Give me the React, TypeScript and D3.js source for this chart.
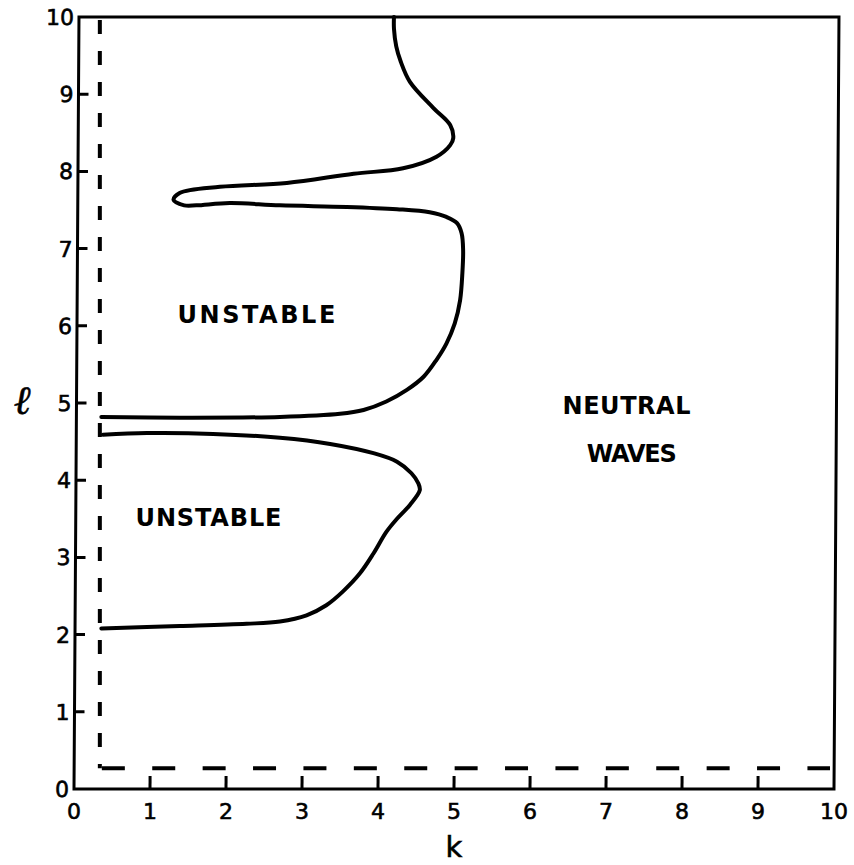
import React from "react";
import * as d3 from "d3";

// Wavenumber ticks on both axes
const kTicks = [0, 1, 2, 3, 4, 5, 6, 7, 8, 9, 10];
const lTicks = [0, 1, 2, 3, 4, 5, 6, 7, 8, 9, 10];

// Marginal-stability curve bounding the lower unstable band, (k, l)
const lowerBoundary: [number, number][] = [
  [0.38, 4.59], [0.96, 4.61], [1.83, 4.6], [2.71, 4.55], [3.37, 4.47],
  [3.94, 4.35], [4.25, 4.24], [4.44, 4.09], [4.53, 3.96], [4.55, 3.87],
  [4.42, 3.68], [4.25, 3.5], [4.11, 3.33], [3.94, 3.05], [3.76, 2.79],
  [3.54, 2.56], [3.32, 2.38], [3.06, 2.25], [2.71, 2.17], [2.27, 2.14],
  [1.39, 2.11], [0.36, 2.08],
];

// Marginal-stability curve bounding the upper unstable band, (k, l)
const upperBoundary: [number, number][] = [
  [0.36, 4.82], [1.39, 4.81], [2.71, 4.82], [3.5, 4.86], [3.81, 4.91],
  [4.11, 5.02], [4.38, 5.17], [4.6, 5.34], [4.77, 5.56], [4.9, 5.77],
  [5.01, 6.03], [5.08, 6.33], [5.11, 6.68], [5.12, 6.98], [5.1, 7.2],
  [5.04, 7.33], [4.9, 7.41], [4.68, 7.47], [4.25, 7.51], [3.59, 7.54],
  [2.71, 7.56], [2.05, 7.59], [1.61, 7.56], [1.45, 7.56], [1.31, 7.63],
  [1.39, 7.72], [1.92, 7.8], [2.8, 7.85], [3.68, 7.97], [4.33, 8.04],
  [4.77, 8.19], [4.95, 8.34], [4.99, 8.43], [4.95, 8.6], [4.73, 8.82],
  [4.42, 9.16], [4.3, 9.42], [4.24, 9.62], [4.21, 9.85], [4.21, 10.0],
];

// Dashed cut-offs: smallest resolved k and l
const kCutoff = [0.34];
const lCutoff = [0.27];

// Region annotations: [text, k, l] with (k, l) the text's centre baseline
const regionLabels: [string, number, number][] = [
  ["UNSTABLE", 2.4, 6.04],
  ["UNSTABLE", 1.77, 3.41],
  ["NEUTRAL", 7.27, 4.86],
  ["WAVES", 7.34, 4.24],
];
const regionWidths = [158, 146, 128, 90];

const W = 854;
const H = 865;

export default function App() {
  const x = d3.scaleLinear().domain([0, 10]).range([74, 834]);
  const y = d3.scaleLinear().domain([0, 10]).range([789, 17]);

  const line = d3
    .line<[number, number]>()
    .x((d) => x(d[0]))
    .y((d) => y(d[1]))
    .curve(d3.curveCatmullRom.alpha(0.5));

  const y0 = y(0);
  const skew = `translate(0,${y0}) skewX(-0.37) translate(0,${-y0})`;
  const inner = kTicks.filter((t) => t > 0 && t < 10);
  const innerL = lTicks.filter((t) => t > 0 && t < 10);
  const font = "'DejaVu Sans', sans-serif";

  return (
    <svg
      width={W}
      height={H}
      style={{ position: "absolute", left: 0, top: 0, background: "#fff" }}
    >
      <g transform={skew} stroke="#000" fill="none" strokeWidth={3}>
        <rect x={x(0)} y={y(10)} width={x(10) - x(0)} height={y(0) - y(10)} />
        {innerL.map((t) => (
          <line key={"ly" + t} x1={x(0)} x2={x(0) + 10} y1={y(t)} y2={y(t)} />
        ))}
        {inner.map((t) => (
          <line key={"lx" + t} x1={x(t)} x2={x(t)} y1={y(0)} y2={y(0) - 13} />
        ))}
      </g>
      <g transform={skew} fontFamily={font} fontSize={22} fill="#000" stroke="#000" strokeWidth={0.6}>
        {lTicks.map((t) => (
          <text key={"ty" + t} x={x(0) - 5} y={y(t) + 8} textAnchor="end">
            {t}
          </text>
        ))}
      </g>
      <g fontFamily={font} fontSize={22} fill="#000" stroke="#000" strokeWidth={0.6}>
        {kTicks.map((t) => (
          <text key={"tx" + t} x={x(t)} y={y(0) + 30} textAnchor="middle">
            {t}
          </text>
        ))}
        <text x={x(5)} y={y(0) + 68} textAnchor="middle" fontSize={29}>
          k
        </text>
        <text x={22} y={y(4.98) + 9} textAnchor="middle" fontSize={40} fontStyle="italic" fontFamily="'DejaVu Serif', serif">
          ℓ
        </text>
      </g>

      {/* cut-off lines */}
      <g stroke="#000" strokeWidth={4} fill="none">
        {kCutoff.map((k, i) => (
          <line
            key={"kc" + i}
            x1={x(k)}
            x2={x(k)}
            y1={y(10) + 3}
            y2={y(lCutoff[0])}
            strokeDasharray="14 17"
          />
        ))}
        {lCutoff.map((l, i) => (
          <line
            key={"lc" + i}
            x1={x(kCutoff[0]) + 2}
            x2={x(10) - 4}
            y1={y(l)}
            y2={y(l)}
            strokeDasharray="23 27.4"
          />
        ))}
      </g>

      {/* stability boundaries */}
      <g stroke="#000" strokeWidth={4} fill="none" strokeLinecap="round" strokeLinejoin="round">
        <path d={line(lowerBoundary) ?? ""} />
        <path d={line(upperBoundary) ?? ""} />
      </g>

      <g fontFamily={font} fontWeight="bold" fontSize={24} fill="#000">
        {regionLabels.map(([txt, k, l], i) => (
          <text
            key={"rl" + i}
            x={x(k) - regionWidths[i] / 2}
            y={y(l)}
            textLength={regionWidths[i]}
            lengthAdjust="spacing"
          >
            {txt}
          </text>
        ))}
      </g>
    </svg>
  );
}
